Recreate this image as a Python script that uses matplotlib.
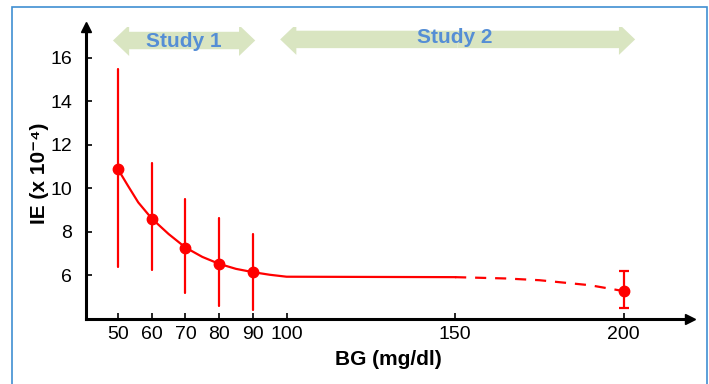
import matplotlib as mpl
import matplotlib.pyplot as plt
from matplotlib.patches import Rectangle

plt.rcParams['font.family'] = ['Liberation Sans', 'DejaVu Sans']

# measured points (BG, IE x 1e-4) with error bar ends
bg = [50, 60, 70, 80, 90, 200]
ie = [10.87, 8.61, 7.28, 6.53, 6.15, 5.28]
err_hi = [15.45, 11.15, 9.5, 8.63, 7.9, 6.2]
err_lo = [6.37, 6.23, 5.21, 4.6, 4.41, 4.52]

# fitted curve, solid part then dashed extrapolation
curve_x = [50, 53, 56, 60, 65, 70, 75, 80, 85, 90, 95, 100, 150]
curve_y = [10.87, 10.1, 9.35, 8.61, 7.9, 7.28, 6.85, 6.53, 6.3, 6.15, 6.03, 5.94, 5.92]
dash_x = [150, 165, 175, 190, 200]
dash_y = [5.92, 5.86, 5.78, 5.55, 5.28]

xticks = [50, 60, 70, 80, 90, 100, 150, 200]
yticks = [6, 8, 10, 12, 14, 16]

red = '#ff0000'
green = '#d9e5c1'
blue = '#558ed5'

fig = plt.figure(figsize=(7.09, 3.84), dpi=100)
ax = fig.add_axes([0.1213, 0.1693, 0.852, 0.7604])
ax.set_xlim(40.5, 219.7)
ax.set_ylim(4.0, 17.4)

# study arrows (double headed, built from two arrows)
def double_arrow(x0, x1, y):
    c = (x0 + x1) / 2
    for end in (x0, x1):
        ax.arrow(c, y, end - c, 0, width=0.8, head_width=1.42, head_length=4.8,
                 length_includes_head=True, fc=green, ec='none', zorder=1)

double_arrow(48.5, 90.7, 16.78)
double_arrow(98.1, 203.4, 16.83)
ax.text(69.6, 16.74, 'Study 1', color=blue, fontsize=15, fontweight='bold',
        ha='center', va='center', zorder=2)
ax.text(150, 16.92, 'Study 2', color=blue, fontsize=15, fontweight='bold',
        ha='center', va='center', zorder=2)

ax.plot(curve_x, curve_y, color=red, lw=1.6, zorder=3)
ax.plot(dash_x, dash_y, color=red, lw=1.6, ls=(0, (5, 4)), zorder=3)

lo = [y - l for y, l in zip(ie, err_lo)]
hi = [h - y for y, h in zip(ie, err_hi)]
ax.errorbar(bg[:5], ie[:5], yerr=[lo[:5], hi[:5]], fmt='o', color=red, ms=7.5,
            elinewidth=1.6, capsize=1, capthick=1.2, zorder=4)
ax.errorbar(bg[5:], ie[5:], yerr=[lo[5:], hi[5:]], fmt='o', color=red, ms=7.5,
            elinewidth=1.6, capsize=3.5, capthick=1.6, zorder=4)

for s in ['top', 'right']:
    ax.spines[s].set_visible(False)
for s in ['left', 'bottom']:
    ax.spines[s].set_linewidth(2.2)
ax.plot(1, 0, '>k', ms=7, transform=ax.transAxes, clip_on=False)
ax.plot(0, 1, '^k', ms=7, transform=ax.transAxes, clip_on=False)

ax.set_xticks(xticks)
ax.set_yticks(yticks)
ax.tick_params(direction='in', length=4, width=1.2, labelsize=14, pad=5)
ax.tick_params(axis='y', pad=10)

ax.set_xlabel('BG (mg/dl)', fontsize=15, fontweight='bold', labelpad=5)
ax.set_ylabel('IE (x 10\u207b\u2074)', fontsize=15, fontweight='bold', labelpad=1)

fig.patches.append(Rectangle((12 / 709, -0.05), 695 / 709, 1.05 - 7 / 384,
                             transform=fig.transFigure, fill=False,
                             ec='#3f8fd2', lw=1.2))

fig.savefig('out.png', dpi=100)
